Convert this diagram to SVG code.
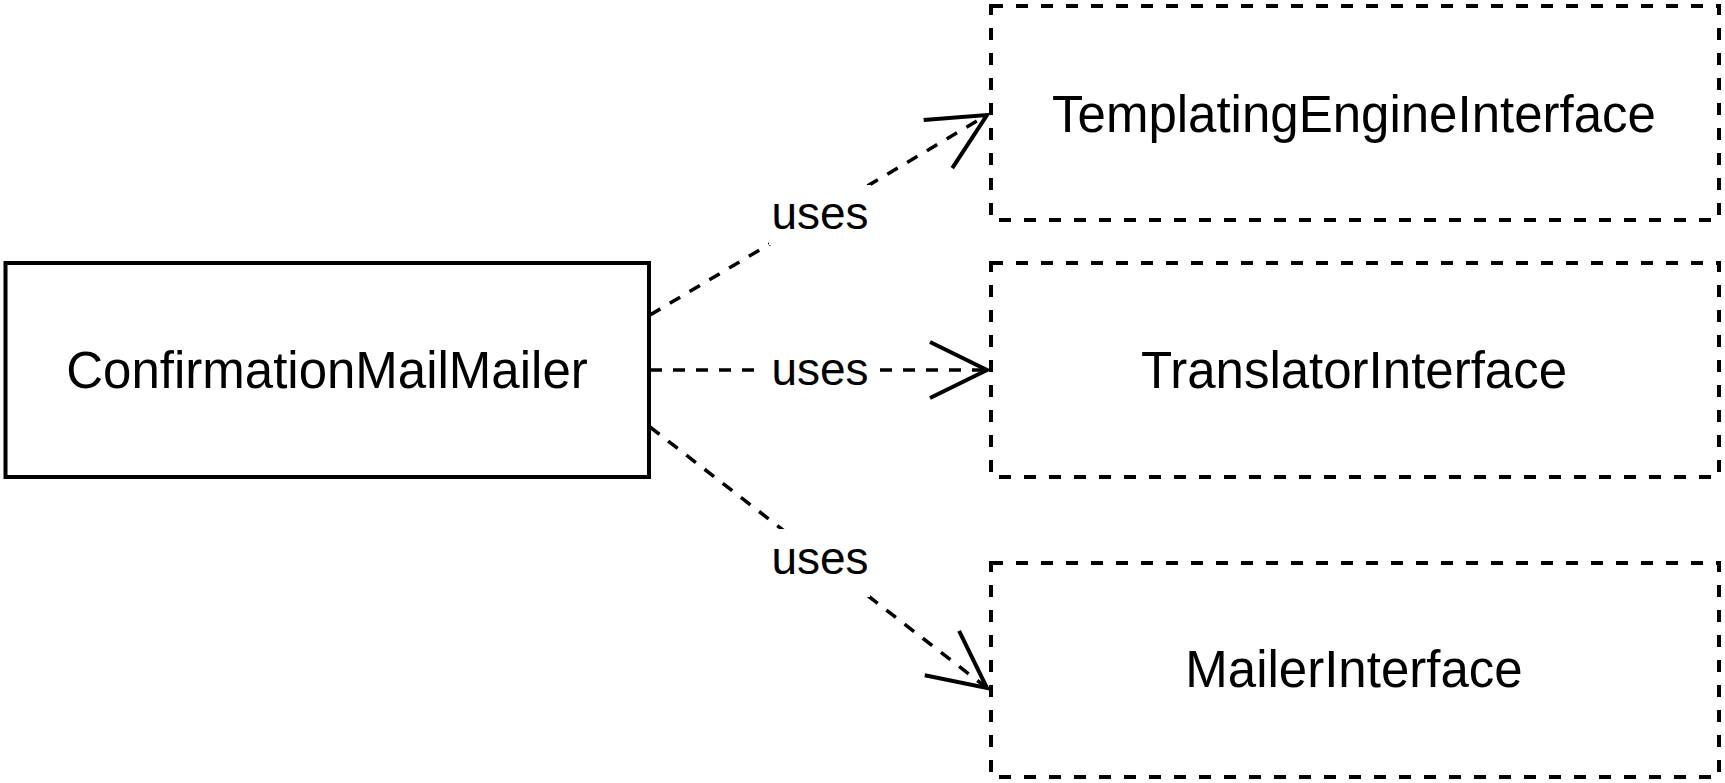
<svg xmlns="http://www.w3.org/2000/svg" width="1725" height="783" viewBox="0 0 1725 783">
<style>
  .solid { fill: #ffffff; stroke: #000000; stroke-width: 4; }
  .dashed { fill: #ffffff; stroke: #000000; stroke-width: 4; stroke-dasharray: 12 13; }
  .name { font-family: "Liberation Sans", Arial, Helvetica, sans-serif; font-size: 51px; fill: #000000; text-anchor: middle; }
  .conn { fill: none; stroke: #000000; stroke-width: 3.5; stroke-dasharray: 12 11; }
  .lblbg { fill: #ffffff; stroke: none; }
  .lbl { font-family: "Liberation Sans", Arial, Helvetica, sans-serif; font-size: 46px; fill: #000000; text-anchor: middle; }
</style>
<defs>
  <marker id="open" markerUnits="userSpaceOnUse" markerWidth="80" markerHeight="80" viewBox="-70 -40 80 80" refX="0" refY="0" orient="auto" overflow="visible">
    <path d="M -57 -28 L 0 0 L -57 28" fill="none" stroke="#000000" stroke-width="4" stroke-dasharray="none" stroke-linejoin="miter"/>
  </marker>
</defs>
<rect width="1725" height="783" fill="#ffffff"/>

<g id="connectors">
  <path class="conn" d="M 650 315 L 987 115" marker-end="url(#open)"/>
  <path class="conn" d="M 650 370 L 987 370" marker-end="url(#open)"/>
  <path class="conn" d="M 650 427 L 987 688" marker-end="url(#open)"/>
  <rect class="lblbg" x="769" y="185" width="102" height="60"/>
  <text class="lbl" x="820" y="229">uses</text>
  <rect class="lblbg" x="764" y="345" width="114" height="50"/>
  <text class="lbl" x="820" y="385">uses</text>
  <rect class="lblbg" x="770" y="529" width="100" height="68"/>
  <text class="lbl" x="820" y="574">uses</text>
</g>

<g id="ConfirmationMailMailer">
  <rect class="solid" x="5.5" y="263" width="643.5" height="214"/>
  <text class="name" x="327" y="388">ConfirmationMailMailer</text>
</g>

<g id="TemplatingEngineInterface">
  <rect class="dashed" x="991" y="6" width="728" height="214"/>
  <text class="name" x="1354" y="132">TemplatingEngineInterface</text>
</g>

<g id="TranslatorInterface">
  <rect class="dashed" x="991" y="263" width="728" height="214"/>
  <text class="name" x="1354" y="388">TranslatorInterface</text>
</g>

<g id="MailerInterface">
  <rect class="dashed" x="991" y="563" width="728" height="214"/>
  <text class="name" x="1354" y="687">MailerInterface</text>
</g>
</svg>
